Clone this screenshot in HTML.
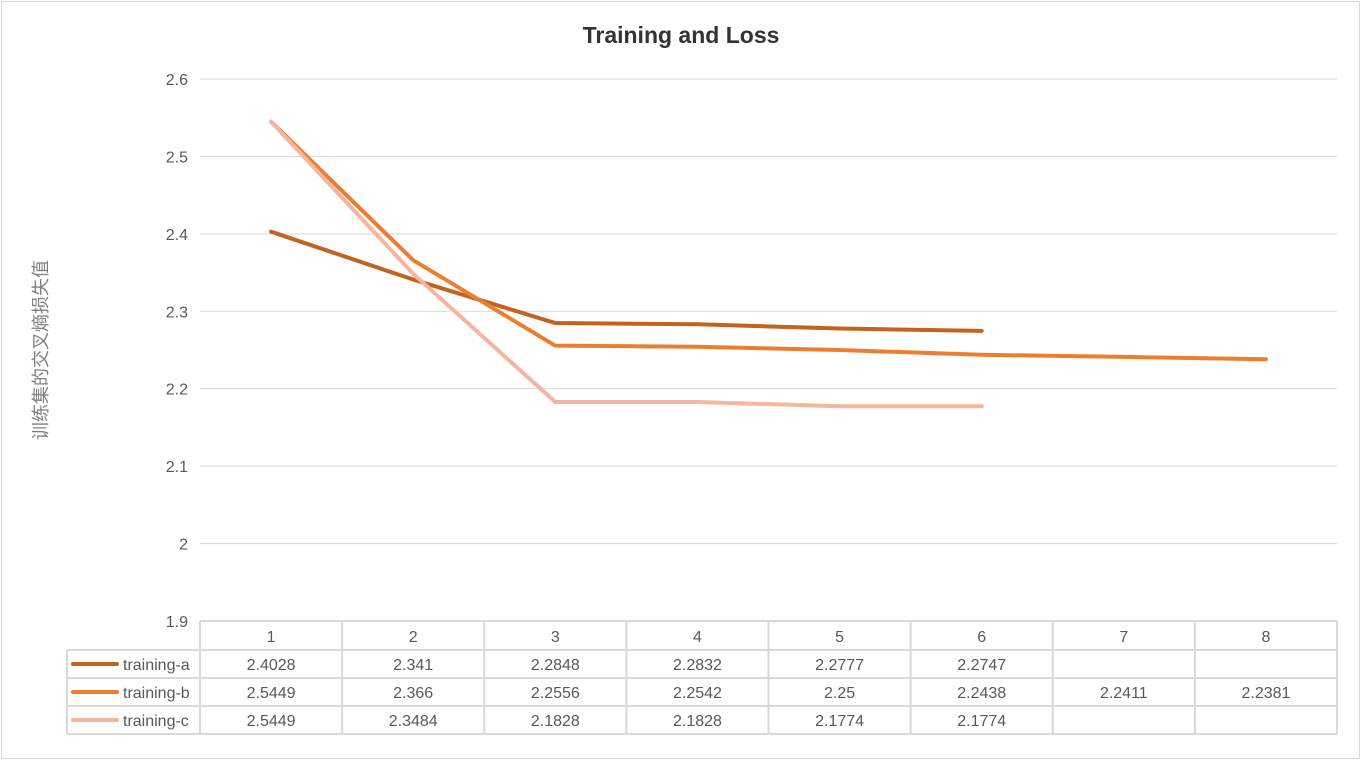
<!DOCTYPE html>
<html><head><meta charset="utf-8"><style>
body{margin:0;background:#fff;}
svg{display:block;font-family:"Liberation Sans","Noto Sans CJK SC",sans-serif;}
</style></head><body>
<svg id="chart" width="1362" height="762">
<rect x="1.5" y="1.5" width="1358" height="757" fill="#fff" stroke="#d9d9d9"/>
<text x="681" y="43" text-anchor="middle" font-size="23" font-weight="bold" fill="#333">Training and Loss</text>
<text transform="translate(47,350) rotate(-90)" text-anchor="middle" font-size="18" fill="#7f7f7f">训练集的交叉熵损失值</text>
<g id="grid"></g><g id="table"></g><g id="lines"></g>
</svg>
<script>
const categories=["1","2","3","4","5","6","7","8"];
const seriesNames=["training-a","training-b","training-c"];
const seriesA=[2.4028,2.341,2.2848,2.2832,2.2777,2.2747,null,null];
const seriesB=[2.5449,2.366,2.2556,2.2542,2.25,2.2438,2.2411,2.2381];
const seriesC=[2.5449,2.3484,2.1828,2.1828,2.1774,2.1774,null,null];
const yTicks=[1.9,2,2.1,2.2,2.3,2.4,2.5,2.6];
const colors=["#C4621F","#ED7D31","#F4B6A0"];
const NS="http://www.w3.org/2000/svg";
const X0=200,X1=1337,Y0=621,Y1=79,YMIN=1.9,YMAX=2.6;
const colW=(X1-X0)/categories.length;
const xs=i=>X0+colW*(i+0.5);
const ys=v=>Y0-(v-YMIN)/(YMAX-YMIN)*(Y0-Y1);
function mk(tag,attrs,parent,text){const e=document.createElementNS(NS,tag);for(const k in attrs)e.setAttribute(k,attrs[k]);if(text!==undefined)e.textContent=text;parent.appendChild(e);return e;}
const grid=document.getElementById('grid'),tbl=document.getElementById('table'),lines=document.getElementById('lines');
yTicks.forEach(t=>{const y=ys(t);
 if(t>YMIN){const l=mk('line',{x1:X0,x2:X1,y1:y,y2:y,stroke:'#d9d9d9','stroke-width':1},grid);
 
 }
 const tx=mk('text',{x:188,y:y+6,'text-anchor':'end','font-size':16,fill:'#595959'},grid,String(t));
 
 });
const rowsY=[621,650,678,706,734];
const st={stroke:'#d9d9d9','stroke-width':2};
mk('line',Object.assign({x1:X0,x2:X1,y1:621,y2:621},st),tbl);
for(let r=1;r<rowsY.length;r++)mk('line',Object.assign({x1:67,x2:X1,y1:rowsY[r],y2:rowsY[r]},st),tbl);
mk('line',Object.assign({x1:67,x2:67,y1:650,y2:734},st),tbl);
for(let c=0;c<=categories.length;c++)mk('line',Object.assign({x1:X0+c*colW,x2:X0+c*colW,y1:621,y2:734},st),tbl);
categories.forEach((c,i)=>{const t=mk('text',{x:xs(i),y:642,'text-anchor':'middle','font-size':16,fill:'#595959'},tbl,c);
 
 });
const all=[seriesA,seriesB,seriesC];
all.forEach((s,si)=>{const yc=(rowsY[si+1]+rowsY[si+2])/2;
 const lg=mk('line',{x1:73,x2:117,y1:yc,y2:yc,stroke:colors[si],'stroke-width':4,'stroke-linecap':'round'},tbl);
 
 
 const lt=mk('text',{x:123,y:yc+6,'font-size':16,fill:'#595959'},tbl,seriesNames[si]);
 
 
 s.forEach((v,i)=>{if(v===null)return;const t=mk('text',{x:xs(i),y:yc+6,'text-anchor':'middle','font-size':16,fill:'#595959'},tbl,String(v));
  
  });
 const pts=s.map((v,i)=>v===null?null:xs(i)+','+ys(v)).filter(p=>p);
 const pl=mk('polyline',{points:pts.join(' '),fill:'none',stroke:colors[si],'stroke-width':4,'stroke-linejoin':'round','stroke-linecap':'round'},lines);
 
 });
</script>
</body></html>
